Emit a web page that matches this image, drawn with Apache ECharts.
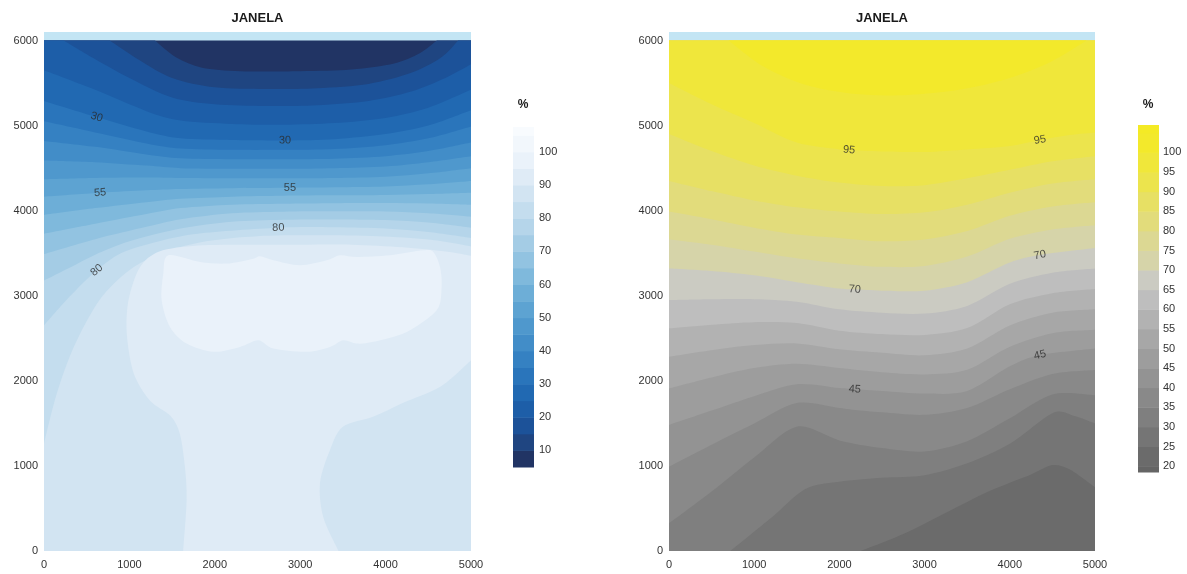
<!DOCTYPE html>
<html>
<head>
<meta charset="utf-8">
<title>JANELA</title>
<script src="https://cdn.jsdelivr.net/npm/echarts@6/dist/echarts.min.js"></script>
<style>
  html, body { margin: 0; padding: 0; background: #ffffff; }
  #main { width: 1187px; height: 574px; }
</style>
</head>
<body>
<div id="main"></div>
<script>
// Plotted domain (metres)
const X_MAX = 5000;
const Y_MAX = 6000;

// ---------- Left panel: level curves, value grows downwards ----------
const blue10 = [[1300,6000],[1550,5800],[1850,5680],[2300,5640],[3000,5640],[3600,5660],[4100,5730],[4400,5850],[4600,6000]];
const blue15 = [[770,6000],[1100,5780],[1500,5560],[2000,5450],[2600,5430],[3200,5440],[3800,5490],[4300,5620],[4650,5800],[4850,6000]];
const blue20 = [[230,6000],[600,5780],[1000,5560],[1500,5330],[2000,5250],[2600,5230],[3200,5240],[3800,5290],[4300,5400],[4700,5560],[5000,5720]];
const blue25 = [[0,5650],[600,5420],[1200,5170],[1600,5060],[2200,5020],[2800,5010],[3400,5030],[4000,5090],[4500,5210],[5000,5420]];
const blue30 = [[0,5290],[617,5100],[1200,4930],[1600,4850],[2200,4830],[2822,4826],[3400,4840],[4000,4900],[4500,5000],[5000,5180]];
const blue35 = [[0,5050],[600,4920],[1200,4790],[1600,4730],[2200,4715],[2800,4715],[3400,4725],[4000,4770],[4500,4850],[5000,4990]];
const blue40 = [[0,4820],[600,4750],[1200,4660],[1600,4615],[2200,4604],[2800,4604],[3400,4610],[4000,4640],[4500,4700],[5000,4800]];
const blue45 = [[0,4590],[600,4570],[1200,4530],[1600,4500],[2200,4493],[2800,4493],[3400,4500],[4000,4520],[4500,4570],[5000,4640]];
const blue50 = [[0,4370],[600,4385],[1200,4390],[1600,4385],[2200,4382],[2800,4382],[3400,4385],[4000,4400],[4500,4440],[5000,4500]];
const blue55 = [[0,4165],[656,4211],[1200,4240],[1600,4255],[2200,4265],[2880,4270],[3400,4275],[4000,4285],[4500,4310],[5000,4350]];
const blue60 = [[0,3950],[600,4030],[1200,4100],[1600,4140],[2200,4165],[2800,4176],[3400,4180],[4000,4185],[4500,4195],[5000,4210]];
const blue65 = [[0,3730],[600,3847],[1200,3960],[1600,4030],[2200,4070],[2800,4082],[3400,4088],[4000,4090],[4500,4085],[5000,4070]];
const blue70 = [[0,3490],[600,3665],[1200,3810],[1600,3900],[2200,3970],[2800,3988],[3400,3992],[4000,3990],[4500,3970],[5000,3930]];
const blue75 = [[0,3180],[300,3330],[600,3483],[1000,3640],[1600,3790],[2200,3870],[2800,3894],[3400,3897],[4000,3890],[4500,3860],[5000,3800]];
const blue80 = [[0,2650],[300,2990],[617,3300],[900,3500],[1300,3630],[1800,3730],[2744,3800],[3400,3805],[4000,3790],[4500,3750],[5000,3680]];
const blue85 = [[0,1260],[150,1850],[350,2400],[650,2950],[1000,3300],[1400,3510],[1900,3640],[2500,3700],[3200,3710],[3900,3700],[4500,3660],[5000,3580]];
const blue90a = [[1630,0],[1670,600],[1650,990],[1590,1380],[1480,1590],[1240,1770],[1050,2090],[970,2550],[990,2950],[1120,3330],[1350,3520],[1800,3590],[2400,3600],[3000,3600],[3600,3600],[4200,3570],[4700,3520],[5000,3470]];
const blue90b = [[5000,2243],[4640,1930],[4200,1740],[3860,1580],[3500,1460],[3350,1190],[3232,800],[3270,400],[3450,0]];
const blue95 = [[1456,3476],[1827,3397],[2139,3378],[2451,3436],[2529,3464],[2685,3417],[2998,3358],[3310,3417],[3466,3476],[3661,3456],[4052,3476],[4442,3534],[4559,3515],[4637,3339],[4656,3104],[4598,2830],[4247,2575],[3856,2458],[3661,2438],[3505,2477],[3349,2399],[3076,2341],[2685,2380],[2510,2477],[2295,2399],[1983,2341],[1671,2438],[1475,2634],[1378,2947],[1397,3260]];

// ---------- Right panel: level curves, value grows upwards ----------
const grey25 = [[2250,0],[2750,200],[3250,450],[3750,700],[4250,900],[4500,1010],[4700,960],[5000,750]];
const grey30 = [[720,0],[1200,390],[1600,730],[2000,815],[2500,860],[3000,890],[3500,1030],[4000,1260],[4500,1620],[4750,1590],[5000,1500]];
const grey35 = [[0,325],[500,700],[1000,1100],[1500,1461],[2000,1300],[2500,1210],[3000,1170],[3500,1290],[4000,1560],[4500,1840],[5000,1830]];
const grey40 = [[0,991],[500,1250],[1000,1500],[1500,1740],[2000,1680],[2181,1657],[2500,1630],[3000,1600],[3500,1680],[4000,1900],[4500,2080],[5000,2127]];
const grey45 = [[0,1481],[500,1650],[1000,1820],[1500,1960],[2000,1915],[2181,1900],[2500,1880],[3000,1850],[3500,1880],[4000,2170],[4354,2303],[5000,2381]];
const grey50 = [[0,1911],[500,2040],[1000,2150],[1500,2200],[2000,2150],[2500,2100],[3000,2075],[3500,2130],[4000,2400],[4500,2560],[5000,2600]];
const grey55 = [[0,2284],[500,2360],[1000,2420],[1500,2440],[2000,2370],[2500,2330],[3000,2300],[3500,2380],[4000,2650],[4500,2800],[5000,2840]];
const grey60 = [[0,2617],[500,2660],[1000,2690],[1500,2680],[2000,2590],[2500,2550],[3000,2540],[3500,2620],[4000,2900],[4500,3030],[5000,3080]];
const grey65 = [[0,2950],[500,2960],[1000,2960],[1500,2930],[2000,2840],[2500,2800],[3000,2790],[3500,2880],[4000,3140],[4500,3270],[5000,3320]];
const grey70 = [[0,3320],[500,3290],[1000,3240],[1500,3160],[2000,3085],[2181,3075],[2500,3060],[3000,3060],[3500,3160],[4000,3390],[4354,3478],[5000,3560]];
const grey75 = [[0,3665],[500,3600],[1000,3520],[1500,3440],[2000,3380],[2500,3340],[3000,3350],[3500,3460],[4000,3670],[4500,3780],[5000,3830]];
const grey80 = [[0,3990],[500,3900],[1000,3800],[1500,3720],[2000,3680],[2500,3640],[3000,3660],[3500,3760],[4000,3940],[4500,4050],[5000,4100]];
const grey85 = [[0,4350],[500,4230],[1000,4120],[1500,4040],[2000,3990],[2500,3960],[3000,3980],[3500,4070],[4000,4210],[4500,4320],[5000,4370]];
const grey90 = [[0,4900],[500,4700],[1000,4530],[1500,4410],[2000,4330],[2500,4290],[3000,4300],[3500,4380],[4000,4480],[4500,4580],[5000,4640]];
const grey95 = [[0,5500],[500,5250],[1000,5030],[1500,4800],[2000,4720],[2114,4712],[2500,4695],[3000,4690],[3500,4720],[4000,4760],[4354,4830],[4700,4890],[5000,4920]];
const grey100 = [[700,6000],[1100,5700],[1600,5480],[2200,5370],[2800,5360],[3400,5420],[4000,5560],[4500,5760],[4900,6000]];

// Contour label positions: [x, y, level]
const leftLabels = [[617,5100,30],[2822,4826,30],[656,4211,55],[2880,4270,55],[2744,3800,80],[617,3300,80]];
const rightLabels = [[2114,4712,95],[4354,4830,95],[2181,3075,70],[4354,3478,70],[2181,1900,45],[4354,2303,45]];

// Colour classes (band edges and fills)
const leftBreaks = [5,10,15,20,25,30,35,40,45,50,55,60,65,70,75,80,85,90,95,100,105,107.5];
const leftColors = ['#213464','#1f4581','#1c5299','#1d5ea8','#2169b2','#2a75bb','#3581c2','#428dc8','#4f98cd','#5da3d2','#6daed7','#7fb9dc','#92c3e1','#a4cce5','#b5d5ea','#c4ddee','#d2e4f2','#dfebf6','#eaf2fa','#f2f7fc','#f8fbfe'];
const rightBreaks = [18.5,20,25,30,35,40,45,50,55,60,65,70,75,80,85,90,95,100,105,107];
const rightColors = ['#656565','#6b6b6b','#757575','#7f7f7f','#898989','#939393','#9d9d9d','#a7a7a7','#b2b2b2','#bebebe','#cbcbc2','#d6d4a9','#dcd893','#e2dc7b','#e7e064','#ece44d','#f0e73a','#f3e92b','#f4ea25'];

// Level -> outline pieces
const leftContours = [
  [10,[blue10]],[15,[blue15]],[20,[blue20]],[25,[blue25]],[30,[blue30]],[35,[blue35]],
  [40,[blue40]],[45,[blue45]],[50,[blue50]],[55,[blue55]],[60,[blue60]],[65,[blue65]],
  [70,[blue70]],[75,[blue75]],[80,[blue80]],[85,[blue85]],[90,[blue90a,blue90b]],[95,[blue95]]
];
const rightContours = [
  [25,[grey25]],[30,[grey30]],[35,[grey35]],[40,[grey40]],[45,[grey45]],[50,[grey50]],
  [55,[grey55]],[60,[grey60]],[65,[grey65]],[70,[grey70]],[75,[grey75]],[80,[grey80]],
  [85,[grey85]],[90,[grey90]],[95,[grey95]],[100,[grey100]]
];

const FONT = '"Liberation Sans", Arial, Helvetica, sans-serif';
const GRID_W = 427, GRID_H = 519, Y_TOP = 6100;

function colorOf(level, breaks, colors) {
  return colors[breaks.indexOf(level)];
}

// Position of a border point along the frame perimeter (counter-clockwise from the origin)
function perim(p) {
  const [x, y] = p, e = 1e-6;
  if (Math.abs(y) < e) return x;
  if (Math.abs(x - X_MAX) < e) return X_MAX + y;
  if (Math.abs(y - Y_MAX) < e) return X_MAX + Y_MAX + (X_MAX - x);
  if (Math.abs(x) < e) return 2 * X_MAX + Y_MAX + (Y_MAX - y);
  return null;
}

// Frame corners met when walking from tFrom to tTo (dir +1 ccw, -1 cw)
function frameCorners(tFrom, tTo, dir) {
  const P = 2 * X_MAX + 2 * Y_MAX;
  const list = [[X_MAX, [X_MAX, 0]], [X_MAX + Y_MAX, [X_MAX, Y_MAX]], [2 * X_MAX + Y_MAX, [0, Y_MAX]], [0, [0, 0]]];
  const dist = t => dir > 0 ? (((t - tFrom) % P) + P) % P : (((tFrom - t) % P) + P) % P;
  const dTo = dist(tTo);
  return list.map(([t, pt]) => [dist(t), pt])
    .filter(([d]) => d > 1e-6 && d < dTo)
    .sort((a, b) => a[0] - b[0])
    .map(c => c[1]);
}

// Cubic segments passing through pixel points
const K = 0.15;
function curveThrough(px, closed) {
  const n = px.length;
  const at = i => closed ? px[((i % n) + n) % n] : px[Math.min(n - 1, Math.max(0, i))];
  let d = '';
  const segs = closed ? n : n - 1;
  for (let i = 0; i < segs; i++) {
    const p0 = at(i - 1), p1 = at(i), p2 = at(i + 1), p3 = at(i + 2);
    const c1x = p1[0] + (p2[0] - p0[0]) * K, c1y = p1[1] + (p2[1] - p0[1]) * K;
    const c2x = p2[0] - (p3[0] - p1[0]) * K, c2y = p2[1] - (p3[1] - p1[1]) * K;
    d += ' C' + c1x.toFixed(2) + ' ' + c1y.toFixed(2) + ' ' + c2x.toFixed(2) + ' ' + c2y.toFixed(2) + ' ' + p2[0].toFixed(2) + ' ' + p2[1].toFixed(2);
  }
  return d;
}

function contourRenderer(contours, breaks, colors, baseLevel, dir) {
  return function (params, api) {
    const idx = params.dataIndex;
    if (idx === 0) {
      const a = api.coord([0, Y_MAX]), b = api.coord([X_MAX, 0]);
      return {
        type: 'rect',
        shape: { x: a[0], y: a[1], width: b[0] - a[0], height: b[1] - a[1] },
        style: { fill: colorOf(baseLevel, breaks, colors) }
      };
    }
    const [level, pieces] = contours[idx - 1];
    const first = pieces[0][0];
    const last = pieces[pieces.length - 1][pieces[pieces.length - 1].length - 1];
    const closed = perim(first) === null;
    let d = '';
    pieces.forEach((piece, j) => {
      const px = piece.map(p => api.coord(p));
      d += (j === 0 ? 'M' : ' L') + px[0][0].toFixed(2) + ' ' + px[0][1].toFixed(2);
      d += curveThrough(px, closed);
    });
    if (!closed) {
      frameCorners(perim(last), perim(first), dir).forEach(c => {
        const q = api.coord(c);
        d += ' L' + q[0].toFixed(2) + ' ' + q[1].toFixed(2);
      });
    }
    d += ' Z';
    return { type: 'path', shape: { pathData: d }, style: { fill: colorOf(level, breaks, colors) } };
  };
}

// Height of a level curve at x, used to turn a label along its line
function curveY(pieces, x) {
  for (const piece of pieces) {
    for (let i = 0; i < piece.length - 1; i++) {
      const a = piece[i], b = piece[i + 1];
      if ((a[0] - x) * (b[0] - x) <= 0 && a[0] !== b[0]) {
        return a[1] + (b[1] - a[1]) * (x - a[0]) / (b[0] - a[0]);
      }
    }
  }
  return null;
}
function labelItems(labels, contours) {
  const sx = GRID_W / X_MAX, sy = GRID_H / Y_TOP;
  return labels.map(p => {
    const pieces = contours.find(c => c[0] === p[2])[1];
    const y1 = curveY(pieces, p[0] - 250), y2 = curveY(pieces, p[0] + 250);
    let rot = 0;
    if (y1 !== null && y2 !== null) rot = Math.atan2((y2 - y1) * sy, 500 * sx) * 180 / Math.PI;
    return { value: p, label: { rotate: Math.round(rot) } };
  });
}

function bandRenderer(colors) {
  return function (params, api) {
    const a = api.coord([0, api.value(2)]);
    const b = api.coord([1, api.value(1)]);
    return {
      type: 'rect',
      shape: { x: a[0], y: a[1], width: b[0] - a[0], height: b[1] - a[1] + 0.5 },
      style: { fill: colors[params.dataIndex] }
    };
  };
}
function bandData(breaks) {
  const out = [];
  for (let i = 0; i < breaks.length - 1; i++) out.push([0, breaks[i], breaks[i + 1]]);
  return out;
}

const plotX = gi => ({
  gridIndex: gi, type: 'value', min: 0, max: X_MAX, interval: 1000,
  axisLine: { show: false }, axisTick: { show: false }, splitLine: { show: false },
  axisLabel: { color: '#333', fontSize: 11, fontFamily: FONT, margin: 8, formatter: v => String(v) }
});
const plotY = gi => ({
  gridIndex: gi, type: 'value', min: 0, max: Y_TOP, interval: 1000,
  axisLine: { show: false }, axisTick: { show: false }, splitLine: { show: false },
  axisLabel: { color: '#333', fontSize: 11, fontFamily: FONT, margin: 6, showMaxLabel: false,
    formatter: v => (v > Y_MAX ? '' : String(v)) }
});
const barX = gi => ({ gridIndex: gi, type: 'value', min: 0, max: 1, show: false });

const labelStyle = {
  show: true, position: 'inside', color: '#2a2a2a', fontSize: 11, fontFamily: FONT,
  formatter: p => String(p.value[2])
};

const option = {
  animation: false,
  backgroundColor: '#ffffff',
  graphic: [
    { type: 'text', x: 257.5, y: 18, style: { text: 'JANELA', font: 'bold 13px ' + FONT, fill: '#1a1a1a', align: 'center', verticalAlign: 'middle' } },
    { type: 'text', x: 882, y: 18, style: { text: 'JANELA', font: 'bold 13px ' + FONT, fill: '#1a1a1a', align: 'center', verticalAlign: 'middle' } },
    { type: 'text', x: 523, y: 105, style: { text: '%', font: 'bold 12px ' + FONT, fill: '#1a1a1a', align: 'center', verticalAlign: 'middle' } },
    { type: 'text', x: 1148, y: 105, style: { text: '%', font: 'bold 12px ' + FONT, fill: '#1a1a1a', align: 'center', verticalAlign: 'middle' } }
  ],
  grid: [
    { left: 44, top: 32, width: GRID_W, height: GRID_H, show: true, backgroundColor: '#c3e5f4', borderWidth: 0 },
    { left: 669, top: 32, width: 426, height: GRID_H, show: true, backgroundColor: '#c3e5f4', borderWidth: 0 },
    { left: 513, top: 127, width: 21, height: 340 },
    { left: 1138, top: 125, width: 21, height: 347 }
  ],
  xAxis: [plotX(0), plotX(1), barX(2), barX(3)],
  yAxis: [
    plotY(0),
    plotY(1),
    {
      gridIndex: 2, type: 'value', min: 5, max: 107.5, interval: 5, position: 'right',
      axisLine: { show: false }, axisTick: { show: false }, splitLine: { show: false },
      axisLabel: { color: '#333', fontSize: 11, fontFamily: FONT, margin: 5,
        formatter: v => (v % 10 === 0 && v <= 100 ? String(v) : '') }
    },
    {
      gridIndex: 3, type: 'value', min: 18.5, max: 107, interval: 0.5, position: 'right',
      axisLine: { show: false }, axisTick: { show: false }, splitLine: { show: false },
      axisLabel: { color: '#333', fontSize: 11, fontFamily: FONT, margin: 4,
        formatter: v => (Math.abs(v % 5) < 1e-9 && v >= 20 && v <= 100 ? String(Math.round(v)) : '') }
    }
  ],
  series: [
    {
      type: 'custom', xAxisIndex: 0, yAxisIndex: 0, clip: true, silent: true,
      renderItem: contourRenderer(leftContours, leftBreaks, leftColors, 5, -1),
      data: [[5, 0]].concat(leftContours.map(c => [c[0], 0]))
    },
    {
      type: 'custom', xAxisIndex: 1, yAxisIndex: 1, clip: true, silent: true,
      renderItem: contourRenderer(rightContours, rightBreaks, rightColors, 20, 1),
      data: [[20, 0]].concat(rightContours.map(c => [c[0], 0]))
    },
    {
      type: 'scatter', xAxisIndex: 0, yAxisIndex: 0, symbolSize: 1, z: 5, silent: true,
      itemStyle: { color: 'rgba(0,0,0,0)' }, label: labelStyle,
      data: labelItems(leftLabels, leftContours)
    },
    {
      type: 'scatter', xAxisIndex: 1, yAxisIndex: 1, symbolSize: 1, z: 5, silent: true,
      itemStyle: { color: 'rgba(0,0,0,0)' }, label: labelStyle,
      data: labelItems(rightLabels, rightContours)
    },
    {
      type: 'custom', xAxisIndex: 2, yAxisIndex: 2, silent: true,
      renderItem: bandRenderer(leftColors), data: bandData(leftBreaks)
    },
    {
      type: 'custom', xAxisIndex: 3, yAxisIndex: 3, silent: true,
      renderItem: bandRenderer(rightColors), data: bandData(rightBreaks)
    }
  ]
};

const chart = echarts.init(document.getElementById('main'), null, { renderer: 'canvas' });
chart.setOption(option);
</script>
</body>
</html>
